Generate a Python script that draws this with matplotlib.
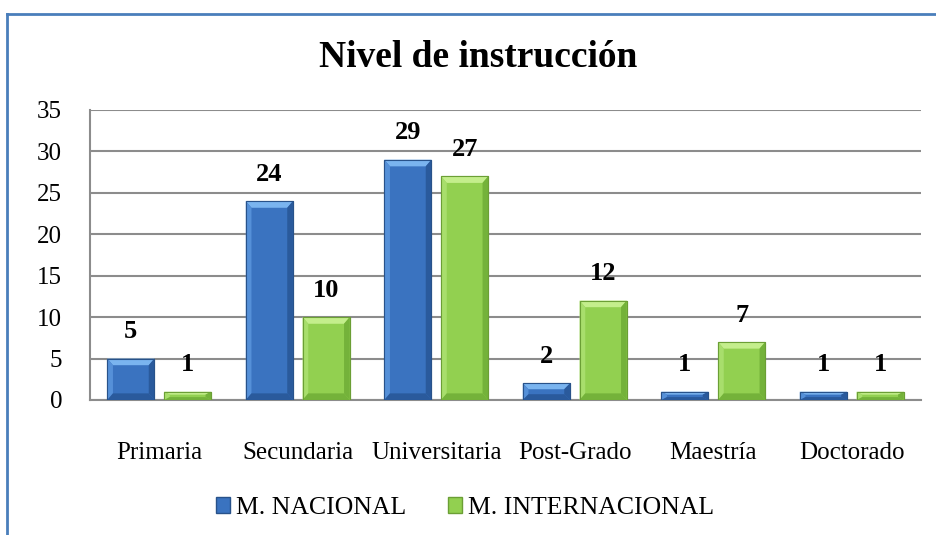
import numpy as np
import matplotlib.pyplot as plt
from matplotlib.patches import Polygon, Patch
from matplotlib.lines import Line2D

categorias = ['Primaria', 'Secundaria', 'Universitaria', 'Post-Grado', 'Maestría', 'Doctorado']
nacional = [5, 24, 29, 2, 1, 1]
internacional = [1, 10, 27, 12, 7, 1]
series = ['M. NACIONAL', 'M. INTERNACIONAL']

plt.rcParams['font.family'] = ['Liberation Serif', 'DejaVu Serif']

# face, top bevel, left bevel, right/bottom shade, edge
azul = ('#3a73c0', '#7ab4ef', '#5590d8', '#2a5a9c', '#28528a')
verde = ('#92d050', '#c4ee8c', '#a8de6c', '#74b23a', '#6b9f35')


def bevel_bars(ax, x, vals, width, colors):
    face, top, left, shade, edge = colors
    bars = ax.bar(x, vals, width, color=face, edgecolor=edge, linewidth=0.8, zorder=3)
    for b in bars:
        x0, w, h = b.get_x(), b.get_width(), b.get_height()
        x1 = x0 + w
        dx = w * 0.12
        dy = min(0.8, h * 0.35)
        ax.add_patch(Polygon([(x0, h), (x1, h), (x1 - dx, h - dy), (x0 + dx, h - dy)],
                             closed=True, facecolor=top, edgecolor='none', zorder=4))
        ax.add_patch(Polygon([(x0, 0), (x0, h), (x0 + dx, h - dy), (x0 + dx, dy)],
                             closed=True, facecolor=left, edgecolor='none', zorder=4))
        ax.add_patch(Polygon([(x1, 0), (x1, h), (x1 - dx, h - dy), (x1 - dx, dy)],
                             closed=True, facecolor=shade, edgecolor='none', zorder=4))
        ax.add_patch(Polygon([(x0, 0), (x1, 0), (x1 - dx, dy), (x0 + dx, dy)],
                             closed=True, facecolor=shade, edgecolor='none', zorder=4))
        ax.add_patch(plt.Rectangle((x0, 0), w, h, facecolor='none', edgecolor=edge,
                                   linewidth=0.8, zorder=5))
        ax.annotate(f'{int(h)}', (x0 + w / 2, h), xytext=(0, 11), textcoords='offset points',
                    ha='center', va='bottom', fontsize=19, fontweight='bold', zorder=6)
    return bars


fig = plt.figure(figsize=(9.36, 5.35), dpi=100)
ax = fig.add_axes([90 / 936, 1 - 400 / 535, 831 / 936, 290 / 535])

x = np.arange(len(categorias))
w = 0.34
bevel_bars(ax, x - 0.205, nacional, w, azul)
bevel_bars(ax, x + 0.205, internacional, w, verde)

ax.set_xlim(-0.5, len(categorias) - 0.5)
ax.set_ylim(0, 35)
ax.set_yticks(np.arange(0, 36, 5))
ax.set_xticks(x)
ax.set_xticklabels(categorias)
ax.tick_params(axis='y', length=0, pad=20, labelsize=18)
ax.tick_params(axis='x', length=0, pad=30, labelsize=18)
ax.grid(axis='y', color='#8c8c8c', linewidth=1.5, zorder=0)
ax.set_axisbelow(True)
for s in ['top', 'right']:
    ax.spines[s].set_visible(False)
for s in ['left', 'bottom']:
    ax.spines[s].set_color('#8c8c8c')
    ax.spines[s].set_linewidth(1.5)

fig.text(0.511, 0.893, 'Nivel de instrucción', ha='center', va='center',
         fontsize=27, fontweight='bold')

handles = [Patch(facecolor=azul[0], edgecolor=azul[4]),
           Patch(facecolor=verde[0], edgecolor=verde[4])]
fig.legend(handles, series, loc='center', bbox_to_anchor=(0.497, 0.05), ncol=2,
           frameon=False, fontsize=18.5, handlelength=0.55, handleheight=0.55,
           handletextpad=0.25, columnspacing=1.6, borderaxespad=0)

# chart border (top and left visible)
fig.add_artist(Line2D([7.5 / 936, 7.5 / 936], [0, 1 - 13.5 / 535], color='#4a7ebb',
                      linewidth=2, transform=fig.transFigure))
fig.add_artist(Line2D([7.5 / 936, 1], [1 - 13.5 / 535, 1 - 13.5 / 535], color='#4a7ebb',
                      linewidth=2, transform=fig.transFigure))

fig.savefig('out.png', dpi=100)
